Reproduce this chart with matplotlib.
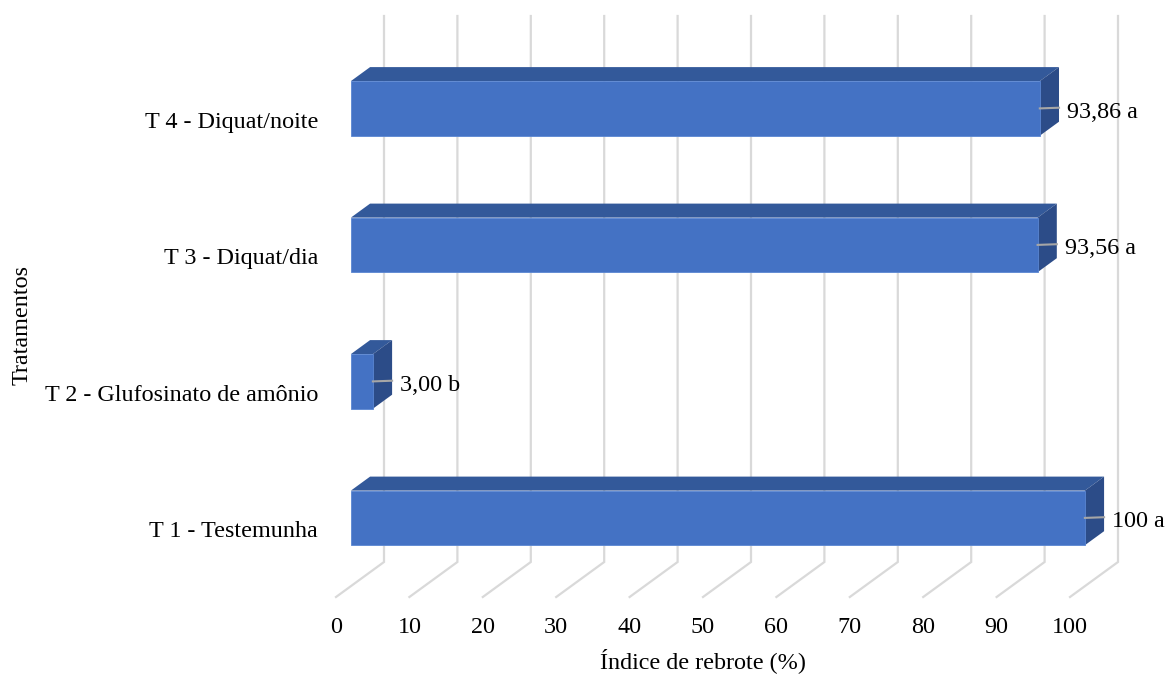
import matplotlib
matplotlib.use("Agg")
import matplotlib.pyplot as plt
from matplotlib.patches import Polygon

# treatments, bottom to top
tratamentos = ["T 1 - Testemunha", "T 2 - Glufosinato de amônio",
               "T 3 - Diquat/dia", "T 4 - Diquat/noite"]
rebrote = [100.0, 3.00, 93.56, 93.86]
rotulos = ["100 a", "3,00 b", "93,56 a", "93,86 a"]
ticks = list(range(0, 101, 10))

plt.rcParams['font.family'] = ['Liberation Serif', 'DejaVu Serif']
FS = 17.4

# pseudo-3D layout (px per unit and depth offsets)
PX_V = 7.34          # px per % on the value axis
PX_C = 136.5         # px per category
DEPTH_X, DEPTH_Y = 48.0, 35.0   # floor depth offset in px
DX = DEPTH_X / PX_V
DY = DEPTH_Y / PX_C
D_FRONT, D_BACK = 0.31, 0.71    # bar position inside the depth
BAR_H = 0.4

def proj(v, c, d):
    return (v + d * DX, c + d * DY)

def px_y(p):
    # pixel row -> data y
    return (597 - p) / PX_C

fig = plt.figure(figsize=(11.67, 6.77), dpi=100)
ax = fig.add_axes([0, 0, 1, 1])
ax.set_xlim(-336 / PX_V, (1167 - 336) / PX_V)
ax.set_ylim(px_y(677), px_y(0))
ax.axis('off')

grid_col = '#D9D9D9'
for t in ticks:
    ax.plot(*zip(proj(t, 0, 0), proj(t, 0, 1), proj(t, 4, 1)),
            color=grid_col, lw=1.6, zorder=1, solid_joinstyle='miter')
    ax.text(t, px_y(633), str(t), ha='center', va='baseline', fontsize=FS)

front_col = '#4472C4'
top_col = '#33599A'
side_col = '#2C4C88'
for i, (val, lab) in enumerate(zip(rebrote, rotulos)):
    y0, y1 = i + 0.5 - BAR_H / 2, i + 0.5 + BAR_H / 2
    top = [proj(0, y1, D_FRONT), proj(val, y1, D_FRONT),
           proj(val, y1, D_BACK), proj(0, y1, D_BACK)]
    side = [proj(val, y0, D_FRONT), proj(val, y0, D_BACK),
            proj(val, y1, D_BACK), proj(val, y1, D_FRONT)]
    front = [proj(0, y0, D_FRONT), proj(val, y0, D_FRONT),
             proj(val, y1, D_FRONT), proj(0, y1, D_FRONT)]
    ax.add_patch(Polygon(top, closed=True, fc=top_col, ec='none', zorder=3))
    ax.add_patch(Polygon(side, closed=True, fc=side_col, ec='none', zorder=3))
    ax.add_patch(Polygon(front, closed=True, fc=front_col, ec='#5A86D2', lw=0.6, zorder=4))

    # leader line across the side face, then the value label
    xe, yc = proj(val, i + 0.5, D_FRONT)
    xb, _ = proj(val, i + 0.5, D_BACK)
    ax.plot([xe, xb], [yc, yc + 0.005], color='#A6A6A6', lw=1.5, zorder=5)
    ax.text(xb + 8 / PX_V, yc - 9.5 / PX_C, lab, ha='left', va='baseline',
            fontsize=FS, zorder=6)

    # category label on the front plane
    ax.text(-18 / PX_V, i + 0.5 - 8.7 / PX_C, tratamentos[i], ha='right',
            va='baseline', fontsize=FS)

ax.text(50, px_y(668), "Índice de rebrote (%)", ha='center', va='baseline',
        fontsize=FS)
ax.text(-308 / PX_V, px_y(325), "Tratamentos", ha='center', va='baseline',
        rotation=90, rotation_mode='anchor', fontsize=FS)

fig.savefig("out.png", dpi=100)
